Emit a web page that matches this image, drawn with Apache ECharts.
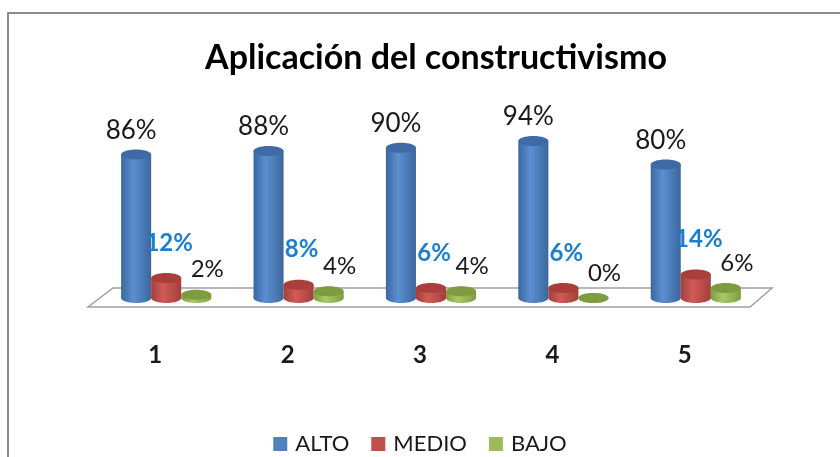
<!DOCTYPE html>
<html>
<head>
<meta charset="utf-8">
<script src="https://cdn.jsdelivr.net/npm/echarts@6/dist/echarts.min.js"></script>
<style>
  html, body { margin: 0; padding: 0; background: #fff; }
  #chart { width: 840px; height: 457px; }
</style>
</head>
<body>
<div id="chart"></div>
<script>
const categories = ['1', '2', '3', '4', '5']
const alto = [86, 88, 90, 94, 80]
const medio = [12, 8, 6, 6, 14]
const bajo = [2, 4, 4, 0, 6]

const font = 'Lato'

// colores de cada cilindro: borde oscuro, brillo, tapa
const palette = {
  ALTO: { base: '#4F81BD', dark: '#3b679f', light: '#5b8fd1', cap: '#3f6aa6' },
  MEDIO: { base: '#C0504D', dark: '#a33f3c', light: '#d05b57', cap: '#a93e3b' },
  BAJO: { base: '#9BBB59', dark: '#7f9e42', light: '#a9c866', cap: '#7e9c3f' }
}

// posicion de la etiqueta respecto a la tapa
const labelStyle = {
  ALTO: { dx: -5, dy: 24, size: 26, color: '#1a1a1a', weight: 'normal' },
  MEDIO: { dx: 3, dy: 35, size: 24, color: '#1a7fd0', weight: 'bold' },
  BAJO: { dx: 11, dy: 25, size: 24, color: '#1a1a1a', weight: 'normal' }
}

function cylinder(idx, name) {
  const c = palette[name]
  const ls = labelStyle[name]
  return function (params, api) {
    const cat = api.value(0)
    const val = api.value(1)
    const base = api.coord([cat, 0])
    const top = api.coord([cat, val])
    const band = api.size([1, 0])[0]
    const w = band * 0.227
    const cx = base[0] + (idx - 1) * w
    const ry = 5
    const grad = new echarts.graphic.LinearGradient(0, 0, 1, 0, [
      { offset: 0, color: c.dark },
      { offset: 0.4, color: c.light },
      { offset: 1, color: c.dark }
    ])
    const children = [
      { type: 'ellipse', shape: { cx: cx, cy: base[1], rx: w / 2, ry: ry }, style: { fill: grad } },
      { type: 'rect', shape: { x: cx - w / 2, y: top[1], width: w, height: base[1] - top[1] }, style: { fill: grad } },
      { type: 'ellipse', shape: { cx: cx, cy: top[1], rx: w / 2, ry: ry }, style: { fill: c.cap } },
      {
        type: 'text',
        style: {
          text: val + '%',
          x: cx + ls.dx,
          y: top[1] - ls.dy,
          align: 'center',
          verticalAlign: 'middle',
          fontSize: ls.size,
          fontFamily: font,
          fontWeight: ls.weight,
          fill: ls.color
        }
      }
    ]
    return { type: 'group', children: children }
  }
}

// piso en perspectiva bajo las barras
function floor(params, api) {
  const cs = params.coordSys
  const yb = cs.y + cs.height
  return {
    type: 'polygon',
    shape: {
      points: [
        [cs.x + 13, yb - 10],
        [cs.x + cs.width + 10, yb - 10],
        [cs.x + cs.width - 12, yb + 9],
        [cs.x - 12, yb + 9]
      ]
    },
    style: { fill: '#fff', stroke: '#a0a0a0', lineWidth: 1.5 }
  }
}

const myChart = echarts.init(document.getElementById('chart'))

const option = {
  animation: false,
  title: {
    text: 'Aplicación del constructivismo',
    left: 431,
    textAlign: 'center',
    top: 36,
    textStyle: { fontFamily: font, fontSize: 34, fontWeight: 'bold', color: '#000' }
  },
  legend: {
    data: ['ALTO', 'MEDIO', 'BAJO'],
    top: 428,
    left: 'center',
    icon: 'rect',
    itemWidth: 14,
    itemHeight: 14,
    itemGap: 22,
    textStyle: { fontFamily: font, fontSize: 22, color: '#1a1a1a', padding: [0, 0, 0, 3] }
  },
  graphic: [
    {
      type: 'rect',
      shape: { x: 8, y: 13, width: 1000, height: 1000 },
      style: { fill: 'none', stroke: '#8c8c8c', lineWidth: 2 }
    }
  ],
  grid: { left: 100, right: 78, top: 131, bottom: 159 },
  xAxis: {
    type: 'category',
    data: categories,
    axisLine: { show: false },
    axisTick: { show: false },
    axisLabel: {
      margin: 45,
      padding: [0, 22, 0, 0],
      fontFamily: font,
      fontSize: 24,
      fontWeight: 'bold',
      color: '#1a1a1a'
    }
  },
  yAxis: {
    type: 'value',
    min: 0,
    max: 100,
    show: false
  },
  series: [
    { type: 'custom', name: 'floor', z: 1, renderItem: floor, data: [[0, 0]], silent: true },
    { type: 'custom', name: 'ALTO', z: 2, itemStyle: { color: palette.ALTO.base }, renderItem: cylinder(0, 'ALTO'), data: alto.map((v, i) => [i, v]) },
    { type: 'custom', name: 'MEDIO', z: 3, itemStyle: { color: palette.MEDIO.base }, renderItem: cylinder(1, 'MEDIO'), data: medio.map((v, i) => [i, v]) },
    { type: 'custom', name: 'BAJO', z: 4, itemStyle: { color: palette.BAJO.base }, renderItem: cylinder(2, 'BAJO'), data: bajo.map((v, i) => [i, v]) }
  ]
}

myChart.setOption(option)
</script>
</body>
</html>
